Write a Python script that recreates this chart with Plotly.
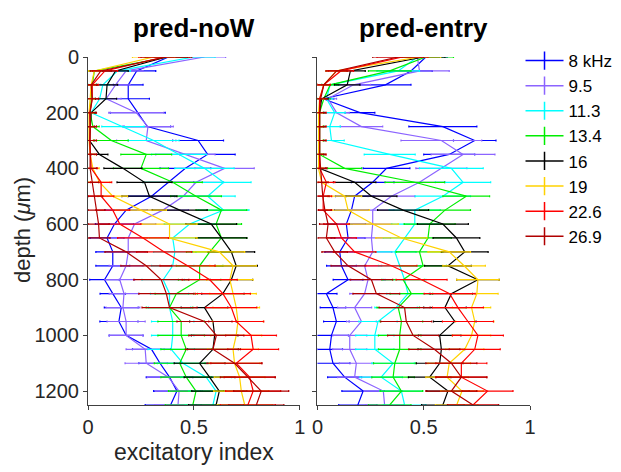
import plotly.graph_objects as go

depth = list(range(0, 1300, 50))  # 0..1250 µm

labels = ["8 kHz", "9.5", "11.3", "13.4", "16", "19", "22.6", "26.9"]
colors = ["#0000FF", "#8C64FF", "#00FFFF", "#00EE00", "#000000", "#FFD200", "#FF0000", "#B00000"]

# ---- pred-noW (left panel) ----
noW_8k  = [0.38,0.23,0.19,0.19,0.235,0.28,0.52,0.565,0.46,0.38,0.30,0.18,0.125,0.09,0.117,0.117,0.078,0.117,0.157,0.146,0.18,0.30,0.34,0.385,0.42,0.39]
noW_9p5 = [0.55,0.18,0.13,0.086,0.228,0.283,0.275,0.46,0.645,0.51,0.45,0.354,0.22,0.19,0.19,0.18,0.15,0.17,0.165,0.18,0.18,0.27,0.275,0.38,0.43,0.425]
noW_11p3= [0.50,0.14,0.07,0.055,0.015,0.165,0.31,0.43,0.55,0.64,0.565,0.64,0.48,0.40,0.41,0.40,0.355,0.385,0.385,0.40,0.40,0.393,0.448,0.558,0.605,0.59]
noW_13p4= [0.38,0.03,0.02,0.015,0.01,0.023,0.11,0.275,0.25,0.40,0.51,0.63,0.605,0.63,0.575,0.527,0.527,0.417,0.385,0.44,0.44,0.464,0.433,0.464,0.51,0.495]
noW_16   = [0.37,0.13,0.09,0.085,0.015,0.01,0.007,0.054,0.165,0.267,0.29,0.433,0.582,0.63,0.677,0.70,0.677,0.637,0.55,0.59,0.598,0.59,0.527,0.574,0.62,0.605]
noW_19   = [0.31,0.03,0.015,0.01,0.005,0.005,0.005,0.01,0.023,0.054,0.117,0.25,0.385,0.385,0.62,0.685,0.67,0.685,0.70,0.708,0.70,0.685,0.692,0.716,0.724,0.74]
noW_22p6 = [0.36,0.08,0.02,0.02,0.008,0.01,0.008,0.01,0.015,0.062,0.062,0.117,0.15,0.26,0.36,0.47,0.575,0.637,0.677,0.70,0.77,0.78,0.70,0.763,0.78,0.755]
noW_26p9 = [0.37,0.06,0.015,0.02,0.01,0.01,0.01,0.01,0.01,0.02,0.03,0.04,0.05,0.054,0.18,0.275,0.346,0.37,0.385,0.55,0.606,0.59,0.692,0.755,0.818,0.795]

noW_err_8k  = [0.10,0.09,0.07,0.10,0.13,0.11,0.12,0.13,0.12,0.12,0.11,0.10,0.09,0.08,0.08,0.08,0.07,0.06,0.08,0.09,0.08,0.09,0.10,0.11,0.11,0.12]
noW_err_9p5 = [0.10,0.08,0.07,0.07,0.13,0.12,0.14,0.14,0.14,0.13,0.13,0.12,0.10,0.09,0.08,0.08,0.07,0.07,0.08,0.09,0.08,0.09,0.10,0.10,0.11,0.11]
noW_err_11p3= [0.10,0.06,0.03,0.03,0.02,0.10,0.12,0.13,0.14,0.13,0.13,0.12,0.12,0.11,0.10,0.10,0.10,0.09,0.10,0.10,0.10,0.11,0.12,0.12,0.13,0.13]
noW_err_13p4= [0.10,0.03,0.02,0.02,0.02,0.03,0.08,0.12,0.13,0.14,0.12,0.12,0.12,0.12,0.11,0.11,0.10,0.10,0.11,0.11,0.11,0.12,0.12,0.12,0.13,0.13]
noW_err_16  = [0.10,0.06,0.05,0.05,0.02,0.02,0.02,0.04,0.09,0.13,0.13,0.13,0.12,0.12,0.11,0.10,0.10,0.10,0.11,0.11,0.11,0.12,0.12,0.12,0.13,0.13]
noW_err_19  = [0.10,0.03,0.02,0.02,0.02,0.02,0.02,0.02,0.03,0.05,0.07,0.12,0.13,0.13,0.12,0.11,0.11,0.11,0.11,0.12,0.12,0.12,0.12,0.12,0.13,0.13]
noW_err_22p6= [0.12,0.06,0.03,0.03,0.03,0.03,0.03,0.03,0.03,0.05,0.06,0.08,0.10,0.12,0.13,0.13,0.13,0.13,0.12,0.13,0.12,0.12,0.12,0.12,0.13,0.13]
noW_err_26p9= [0.12,0.05,0.03,0.03,0.03,0.03,0.03,0.03,0.03,0.03,0.04,0.04,0.05,0.05,0.10,0.12,0.13,0.13,0.13,0.13,0.13,0.13,0.13,0.13,0.13,0.13]

# ---- pred-entry (right panel) ----
ent_8k   = [0.51,0.44,0.32,0.027,0.20,0.59,0.74,0.62,0.325,0.26,0.175,0.16,0.136,0.144,0.105,0.113,0.144,0.042,0.073,0.089,0.066,0.058,0.073,0.128,0.215,0.19]
ent_9p5  = [0.47,0.48,0.17,0.05,0.09,0.207,0.583,0.685,0.583,0.48,0.348,0.26,0.26,0.254,0.26,0.222,0.238,0.222,0.175,0.207,0.152,0.152,0.183,0.175,0.31,0.316]
ent_11p3 = [0.47,0.38,0.06,0.042,0.081,0.058,0.066,0.34,0.63,0.685,0.59,0.458,0.458,0.41,0.364,0.387,0.41,0.426,0.37,0.285,0.27,0.27,0.356,0.30,0.395,0.41]
ent_13p4 = [0.51,0.34,0.06,0.03,0.01,0.01,0.01,0.01,0.128,0.458,0.70,0.60,0.528,0.52,0.48,0.497,0.403,0.442,0.38,0.395,0.387,0.387,0.364,0.356,0.395,0.34]
ent_16   = [0.50,0.155,0.14,0.02,0.01,0.01,0.01,0.01,0.01,0.175,0.254,0.403,0.59,0.654,0.693,0.614,0.755,0.63,0.60,0.646,0.575,0.583,0.575,0.528,0.614,0.59]
ent_19   = [0.48,0.09,0.03,0.01,0.005,0.005,0.005,0.005,0.005,0.02,0.128,0.144,0.26,0.395,0.62,0.69,0.755,0.75,0.725,0.74,0.725,0.693,0.62,0.61,0.68,0.655]
ent_22p6 = [0.40,0.11,0.03,0.01,0.01,0.01,0.01,0.01,0.01,0.042,0.027,0.027,0.09,0.113,0.175,0.348,0.49,0.622,0.661,0.708,0.755,0.74,0.677,0.677,0.80,0.732]
ent_26p9 = [0.38,0.09,0.03,0.015,0.01,0.01,0.01,0.01,0.015,0.02,0.025,0.035,0.05,0.042,0.081,0.144,0.254,0.277,0.41,0.418,0.45,0.55,0.63,0.677,0.63,0.732]

ent_err_8k   = [0.10,0.10,0.12,0.05,0.07,0.16,0.10,0.12,0.11,0.10,0.09,0.08,0.09,0.08,0.07,0.07,0.07,0.05,0.06,0.06,0.08,0.06,0.08,0.08,0.10,0.09]
ent_err_9p5  = [0.10,0.14,0.08,0.04,0.06,0.10,0.19,0.15,0.12,0.12,0.11,0.10,0.09,0.09,0.09,0.08,0.08,0.07,0.08,0.07,0.08,0.08,0.08,0.08,0.09,0.09]
ent_err_11p3 = [0.10,0.10,0.04,0.03,0.05,0.05,0.06,0.12,0.15,0.13,0.13,0.12,0.11,0.10,0.10,0.10,0.10,0.10,0.10,0.09,0.09,0.09,0.10,0.10,0.10,0.10]
ent_err_13p4 = [0.13,0.10,0.04,0.03,0.02,0.02,0.02,0.02,0.08,0.14,0.11,0.12,0.12,0.11,0.11,0.11,0.10,0.10,0.10,0.10,0.10,0.10,0.10,0.10,0.10,0.10]
ent_err_16   = [0.10,0.07,0.06,0.03,0.02,0.02,0.02,0.02,0.03,0.10,0.12,0.12,0.12,0.11,0.11,0.11,0.10,0.10,0.10,0.10,0.10,0.11,0.11,0.10,0.10,0.10]
ent_err_19   = [0.10,0.05,0.03,0.02,0.02,0.02,0.02,0.02,0.02,0.03,0.08,0.10,0.12,0.12,0.10,0.10,0.10,0.10,0.09,0.09,0.09,0.09,0.10,0.10,0.10,0.10]
ent_err_22p6 = [0.12,0.06,0.03,0.03,0.03,0.03,0.03,0.03,0.03,0.04,0.04,0.04,0.06,0.07,0.10,0.12,0.12,0.12,0.12,0.12,0.12,0.12,0.12,0.12,0.12,0.12]
ent_err_26p9 = [0.12,0.05,0.03,0.03,0.03,0.03,0.03,0.03,0.03,0.03,0.03,0.03,0.04,0.04,0.06,0.08,0.10,0.11,0.12,0.12,0.12,0.12,0.12,0.12,0.12,0.12]

x_ticks = [0, 0.5, 1]
x_tick_text = ["0", "0.5", "1"]
y_ticks = [0, 200, 400, 600, 800, 1000, 1200]

noW_vals = [noW_8k, noW_9p5, noW_11p3, noW_13p4, noW_16, noW_19, noW_22p6, noW_26p9]
noW_errs = [noW_err_8k, noW_err_9p5, noW_err_11p3, noW_err_13p4, noW_err_16, noW_err_19, noW_err_22p6, noW_err_26p9]
ent_vals = [ent_8k, ent_9p5, ent_11p3, ent_13p4, ent_16, ent_19, ent_22p6, ent_26p9]
ent_errs = [ent_err_8k, ent_err_9p5, ent_err_11p3, ent_err_13p4, ent_err_16, ent_err_19, ent_err_22p6, ent_err_26p9]

FONT = "Liberation Sans, Arial, Helvetica, sans-serif"
fig = go.Figure()

for panel, (vals, errs) in enumerate([(noW_vals, noW_errs), (ent_vals, ent_errs)]):
    xa = "x" if panel == 0 else "x2"
    ya = "y" if panel == 0 else "y2"
    for lab, c, v, e in zip(labels, colors, vals, errs):
        fig.add_trace(go.Scatter(
            x=v, y=depth, mode="lines", xaxis=xa, yaxis=ya,
            line=dict(color=c, width=1.2),
            error_x=dict(type="data", array=e, visible=True, color=c, thickness=1.2, width=1),
            showlegend=False, cliponaxis=False, name=lab))

# legend entries
for lab, c in zip(labels, colors):
    fig.add_trace(go.Scatter(
        x=[None], y=[None], mode="lines+markers", name=lab,
        line=dict(color=c, width=1.5),
        marker=dict(symbol="line-ns-open", size=13, color=c, line=dict(color=c, width=1.5)),
        showlegend=True))

# plot-area geometry (pixels)
L, R, T, B = 88.0, 90.5, 57.0, 67.0
W = 621 - L - R
H = 472 - T - B

axcol = "#404040"
common_x = dict(range=[0, 1], tickvals=x_ticks, ticktext=x_tick_text, showline=True, linecolor=axcol,
                linewidth=1, ticks="outside", ticklen=4, tickcolor=axcol, showgrid=False, zeroline=False,
                tickfont=dict(size=20, color="#262626", family=FONT), fixedrange=True, automargin=False)
common_y = dict(range=[1250, 0], tickvals=y_ticks, showline=True, linecolor=axcol, linewidth=1,
                ticks="outside", ticklen=4, tickcolor=axcol, showgrid=False, zeroline=False,
                tickfont=dict(size=20, color="#262626", family=FONT), fixedrange=True, automargin=False)

fig.update_layout(
    width=621, height=472,
    margin=dict(l=L, r=R, t=T, b=B, autoexpand=False),
    paper_bgcolor="white", plot_bgcolor="white",
    font=dict(family=FONT, color="#262626"),
    xaxis=dict(common_x, domain=[0, (300 - L) / W], anchor="y",
               title=dict(text="excitatory index", font=dict(size=23, color="#262626"), standoff=6)),
    xaxis2=dict(common_x, domain=[(317.7 - L) / W, 1], anchor="y2"),
    yaxis=dict(common_y, domain=[0, 1], anchor="x"),
    yaxis2=dict(common_y, domain=[0, 1], anchor="x2", showticklabels=False),
    legend=dict(x=(521 - L) / W, y=1 + (T - 43) / H, xanchor="left", yanchor="top",
                font=dict(size=17, color="#000000", family=FONT), bgcolor="rgba(0,0,0,0)",
                tracegroupgap=0, itemwidth=38),
    annotations=[
        dict(text="<b>pred-noW</b>", x=(194 - L) / W, y=1 + (T - 28) / H, xref="paper", yref="paper",
             showarrow=False, font=dict(size=26, color="#000000", family=FONT), xanchor="center", yanchor="middle"),
        dict(text="<b>pred-entry</b>", x=(424 - L) / W, y=1 + (T - 28) / H, xref="paper", yref="paper",
             showarrow=False, font=dict(size=26, color="#000000", family=FONT), xanchor="center", yanchor="middle"),
        dict(text="depth (<i>μ</i>m)", x=(22 - L) / W, y=1 - (230 - T) / H, xref="paper", yref="paper",
             showarrow=False, textangle=-90, font=dict(size=22, color="#262626", family=FONT),
             xanchor="center", yanchor="middle"),
    ],
)

fig.write_html("out.html")
